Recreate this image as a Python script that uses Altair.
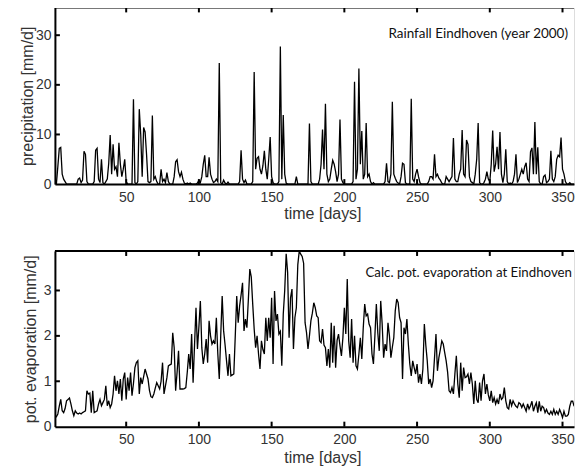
import altair as alt
import pandas as pd

# ---------------- data ----------------
# daily rainfall (mm/d); days not listed are dry (0)
rain_day = [3, 4, 5, 6, 7, 8, 17, 18, 19, 20, 21, 22, 23, 28, 29, 30, 31, 32, 33, 34,
            36, 37, 38, 39, 40, 41, 42, 43, 44, 45, 46, 47, 48, 49, 50, 55, 56, 58, 59, 60,
            61, 62, 63, 64, 65, 66, 67, 68, 69, 70, 71,
            74, 75, 76, 77, 78, 79, 83, 84, 85, 86, 87, 88, 89, 90, 92, 94,
            99, 100, 101, 102, 103, 104, 105, 106, 107, 108, 109, 110, 111, 112, 113, 114, 115,
            117, 118, 120,
            128, 129, 130, 131, 132, 137, 138, 139, 140, 141, 142, 143, 144, 145, 146, 147, 148,
            149, 150, 151, 155, 156, 157, 158, 159, 160, 167, 176, 177,
            183, 184, 185, 186, 187, 188, 189, 190, 191, 192, 193, 194, 195, 196, 197, 198, 199,
            206, 207, 208, 209, 210, 211, 212, 213, 214, 215, 216, 217, 218, 220,
            228, 229, 230, 231, 232, 233, 234, 235, 236, 237, 239, 240, 241, 242,
            246, 247, 248, 249, 250, 251, 252, 258, 259, 260, 261, 262, 263, 264, 265, 266, 267,
            270, 271, 272, 273, 274, 275, 276, 277, 278, 279, 280, 281, 282, 283, 284, 285, 286,
            287, 288, 290, 291, 292, 293,
            296, 297, 298, 299, 300, 301, 302, 303, 304, 305, 306, 307, 308, 309, 310, 311, 312,
            314, 316, 317, 318, 319, 320, 321, 322, 323, 324, 325, 326, 327, 328, 329, 330, 331,
            332, 333, 334, 337, 338, 339, 340, 341, 342, 343, 344, 345, 346, 347, 348, 349, 350,
            351, 352, 355, 359, 360, 361, 362]
rain_mm = [3.5, 7.2, 7.4, 2.0, 1.0, 0.5, 1.0, 1.2, 0.3, 0.8, 6.6, 6.0, 0.5, 0.5, 6.8, 7.2, 1.0, 0.3, 5.0, 0.3,
           0.5, 1.0, 4.2, 9.9, 2.0, 8.0, 3.0, 3.5, 1.5, 8.3, 4.0, 1.5, 3.0, 5.0, 0.5, 17.1, 0.3, 0.5, 15.1, 10.0,
           1.5, 11.4, 10.5, 6.0, 0.5, 0.3, 0.5, 13.8, 1.0, 1.5, 0.5,
           3.0, 0.5, 1.0, 0.3, 2.3, 0.5, 1.5, 4.5, 4.9, 2.5, 1.5, 2.4, 1.0, 0.2, 0.2, 0.2,
           0.2, 0.8, 0.3, 1.5, 4.0, 5.8, 1.5, 1.5, 5.4, 2.0, 1.0, 0.3, 0.5, 1.0, 0.5, 24.4, 0.3,
           0.8, 0.2, 0.4,
           0.5, 6.8, 1.0, 0.3, 0.8, 0.5, 22.6, 3.0, 5.2, 5.5, 3.0, 2.0, 3.7, 6.7, 3.0, 1.0, 5.0,
           9.5, 1.5, 0.3, 0.5, 27.7, 1.0, 13.9, 2.0, 0.2, 1.5, 12.2, 0.5,
           1.0, 4.0, 11.0, 3.0, 16.2, 2.0, 0.5, 1.0, 3.0, 4.8, 4.0, 2.5, 0.5, 2.0, 13.0, 1.0, 0.3,
           0.5, 20.6, 1.0, 3.0, 23.3, 4.0, 10.7, 1.0, 2.0, 12.3, 1.5, 2.0, 0.5, 0.3,
           0.5, 4.2, 0.5, 0.3, 2.0, 16.6, 2.0, 1.2, 0.5, 0.2, 1.5, 4.2, 4.0, 0.3,
           17.2, 1.0, 0.5, 2.0, 3.0, 1.5, 0.3, 0.5, 1.5, 1.5, 1.0, 6.0, 1.5, 2.0, 1.2, 0.8, 0.2,
           1.5, 1.0, 0.5, 1.0, 1.5, 9.3, 1.0, 0.5, 0.5, 2.0, 3.0, 10.9, 2.0, 1.5, 8.9, 8.0, 1.5,
           0.5, 0.3, 2.0, 5.0, 12.3, 0.3,
           0.3, 1.0, 2.5, 1.0, 0.5, 4.0, 10.8, 2.5, 4.0, 7.5, 3.0, 10.5, 2.0, 0.3, 2.0, 7.0, 0.5,
           0.2, 0.5, 2.0, 6.0, 0.3, 1.0, 2.0, 3.0, 2.0, 3.5, 4.3, 1.0, 0.5, 6.5, 7.3, 2.0, 12.5,
           2.0, 7.4, 0.5, 1.5, 1.8, 0.3, 0.5, 1.0, 6.7, 1.0, 0.5, 1.5, 5.0, 5.8, 5.5, 9.4, 3.0,
           2.0, 0.5, 0.3, 1.0, 2.5, 1.5, 0.5]

# daily potential evaporation (mm/d), days 1..366
evap_mm = [
    0.20, 0.22, 0.28, 0.45, 0.60, 0.35, 0.31, 0.40, 0.57, 0.60,
    0.63, 0.50, 0.35, 0.24, 0.35, 0.30, 0.28, 0.30, 0.28, 0.31,
    0.33, 0.35, 0.79, 0.72, 0.74, 0.31, 0.79, 0.31, 0.33, 0.35,
    0.50, 0.60, 0.46, 0.53, 0.60, 0.90, 0.46, 0.57, 0.42, 0.50,
    0.72, 1.12, 0.79, 1.01, 0.72, 1.05, 0.57, 1.05, 1.19, 0.60,
    1.08, 0.79, 1.19, 0.68, 0.95, 1.30, 1.41, 1.45, 0.72, 1.08,
    0.94, 1.10, 1.27, 1.16, 1.05, 0.80, 0.66, 0.64, 0.72, 0.85,
    0.97, 0.90, 0.83, 1.00, 1.41, 0.72, 0.90, 1.08, 1.34, 1.36,
    1.38, 2.07, 1.74, 0.79, 1.20, 1.67, 0.83, 0.83, 0.83, 0.84,
    0.86, 1.20, 1.60, 1.27, 2.04, 0.97, 1.80, 2.62, 1.71, 2.20,
    2.77, 1.74, 1.38, 1.60, 1.93, 1.41, 2.33, 2.00, 1.82, 1.89,
    1.82, 2.40, 1.60, 1.05, 2.00, 2.88, 2.11, 1.80, 1.45, 1.12,
    1.60, 1.12, 1.14, 1.16, 2.00, 2.88, 2.29, 2.66, 2.90, 3.17,
    2.11, 2.37, 2.18, 2.80, 3.47, 3.30, 2.70, 2.15, 1.74, 2.00,
    1.60, 1.27, 1.89, 1.70, 1.60, 2.40, 1.89, 2.40, 1.96, 2.84,
    1.38, 2.99, 2.33, 2.48, 2.04, 2.10, 1.34, 2.48, 3.00, 3.81,
    3.40, 1.96, 2.84, 3.03, 1.71, 2.40, 2.62, 3.57, 3.87, 3.80,
    3.75, 3.60, 2.29, 2.07, 1.71, 2.00, 2.33, 2.50, 2.73, 2.62,
    2.44, 2.40, 1.89, 1.85, 2.15, 1.80, 1.74, 1.34, 1.71, 1.30,
    2.29, 1.41, 2.22, 1.30, 1.90, 2.04, 1.78, 1.56, 1.96, 2.62,
    2.04, 3.25, 1.89, 1.52, 2.37, 1.41, 2.00, 1.34, 1.27, 1.60,
    1.96, 1.49, 2.18, 2.70, 2.44, 2.48, 2.26, 2.18, 1.60, 1.38,
    2.00, 2.70, 2.07, 1.67, 2.77, 2.26, 1.52, 1.82, 1.67, 2.29,
    2.00, 1.52, 1.75, 1.96, 2.55, 2.81, 2.73, 2.40, 2.29, 1.05,
    2.18, 2.04, 2.37, 1.82, 1.38, 1.12, 1.45, 1.30, 1.16, 1.38,
    0.97, 1.16, 0.94, 1.27, 2.26, 1.80, 1.45, 0.94, 1.05, 0.86,
    1.01, 1.52, 2.04, 1.23, 1.52, 1.70, 1.89, 1.82, 1.63, 1.45,
    1.20, 0.79, 0.75, 0.86, 0.72, 1.16, 1.56, 0.94, 0.64, 1.41,
    0.79, 1.30, 1.08, 1.10, 1.16, 0.94, 1.19, 0.94, 0.50, 1.01,
    0.60, 0.53, 0.97, 0.57, 1.01, 1.16, 0.72, 0.94, 0.70, 0.57,
    0.79, 0.53, 0.64, 0.50, 0.60, 0.50, 0.72, 0.60, 0.64, 0.86,
    0.57, 0.42, 0.39, 0.60, 0.46, 0.57, 0.50, 0.45, 0.42, 0.53,
    0.50, 0.42, 0.50, 0.42, 0.34, 0.50, 0.39, 0.46, 0.56, 0.34,
    0.45, 0.53, 0.31, 0.56, 0.34, 0.45, 0.42, 0.31, 0.38, 0.30,
    0.27, 0.34, 0.27, 0.38, 0.27, 0.34, 0.27, 0.38, 0.30, 0.20,
    0.34, 0.23, 0.23, 0.27, 0.45, 0.56, 0.56, 0.45, 0.27, 0.22,
    0.45, 0.55, 0.55, 0.50, 0.45, 0.40,
]

x_tick_values = [50, 100, 150, 200, 250, 300, 350]
rain_tick_values = [0, 10, 20, 30]
evap_tick_values = [0, 1, 2, 3]

assert len(rain_day) == len(rain_mm)
days = list(range(1, 367))
rain_lookup = dict(zip(rain_day, rain_mm))
rain_df = pd.DataFrame({"day": days, "v": [rain_lookup.get(d, 0.0) for d in days]})
evap_df = pd.DataFrame({"day": days, "v": evap_mm})

# ---------------- layout ----------------
W = 520
FONT = "Liberation Sans"
TXT = "#333333"
XMAX = 357.9            # right edge of the visible window (the figure is cut there)
XDOM = [1, XMAX]


def panel(df, ydom, yticks, ytitle, title_x, xlabel_pad, xtitle_y,
          note, note_x, note_y, note_size, H):
    xs = alt.Scale(domain=XDOM, nice=False, zero=False)
    ys = alt.Scale(domain=ydom, nice=False, zero=False)
    x_axis = alt.Axis(values=x_tick_values, title="time [days]", ticks=False,
                      domain=True, domainColor="black", domainWidth=2,
                      labelFontSize=14, labelFont=FONT, labelColor=TXT, labelPadding=xlabel_pad,
                      titleFontSize=16, titleFont=FONT, titleColor=TXT, titleFontWeight="normal",
                      titleX=268, titleY=xtitle_y, titleBaseline="middle", titleAlign="center",
                      grid=False, labelFlush=False)
    y_axis = alt.Axis(values=yticks, title=ytitle, ticks=False,
                      domain=True, domainColor="black", domainWidth=2,
                      labelFontSize=14, labelFont=FONT, labelColor=TXT, labelPadding=4,
                      titleFontSize=16, titleFont=FONT, titleColor=TXT, titleFontWeight="normal",
                      titleAngle=270, titleX=title_x, titleY=H / 2, titleBaseline="middle",
                      titleAlign="center", grid=False, labelFlush=False)
    line = alt.Chart(df).transform_filter(alt.datum.day <= XMAX + 0.2).mark_line(
        color="black", strokeWidth=1.3, clip=True).encode(
        x=alt.X("day:Q", scale=xs, axis=x_axis),
        y=alt.Y("v:Q", scale=ys, axis=y_axis),
    )
    xt = pd.DataFrame({"day": x_tick_values})
    top_ticks = alt.Chart(xt).mark_rule(color="black", strokeWidth=2).encode(
        x=alt.X("day:Q", scale=xs), y=alt.value(0), y2=alt.value(5))
    bot_ticks = alt.Chart(xt).mark_rule(color="black", strokeWidth=2).encode(
        x=alt.X("day:Q", scale=xs), y=alt.value(H - 5), y2=alt.value(H))
    yt = pd.DataFrame({"v": yticks[1:]})
    left_ticks = alt.Chart(yt).mark_rule(color="black", strokeWidth=2).encode(
        y=alt.Y("v:Q", scale=ys), x=alt.value(0), x2=alt.value(5))
    top_frame = alt.Chart(pd.DataFrame({"k": [0]})).mark_rule(color="black", strokeWidth=2).encode(
        x=alt.value(0), x2=alt.value(W), y=alt.value(0))
    label = alt.Chart(pd.DataFrame({"t": [note]})).mark_text(
        align="right", baseline="middle", font="Lato", fontSize=note_size, color="#111111").encode(
        text="t:N", x=alt.value(note_x), y=alt.value(note_y))
    return alt.layer(line, top_ticks, bot_ticks, left_ticks, top_frame, label).properties(
        width=W, height=H)


top = panel(rain_df, [0, 35.6], rain_tick_values, "precipitation [mm/d]", -27.6, 6, 29,
            "Rainfall Eindhoven (year 2000)", 514, 27, 13.5, 177)
bottom = panel(evap_df, [0, 3.87], evap_tick_values, "pot. evaporation [mm/d]", -24.3, 6, 31,
               "Calc. pot. evaporation at Eindhoven", 518, 22, 13.3, 176)

chart = alt.vconcat(top, bottom, spacing=67, bounds="flush").properties(
    padding={"left": 10, "top": -3, "right": -1, "bottom": 0}
).configure_view(stroke=None).configure(background="white")

chart.save("out.html", embed_options={"renderer": "svg", "actions": False})
